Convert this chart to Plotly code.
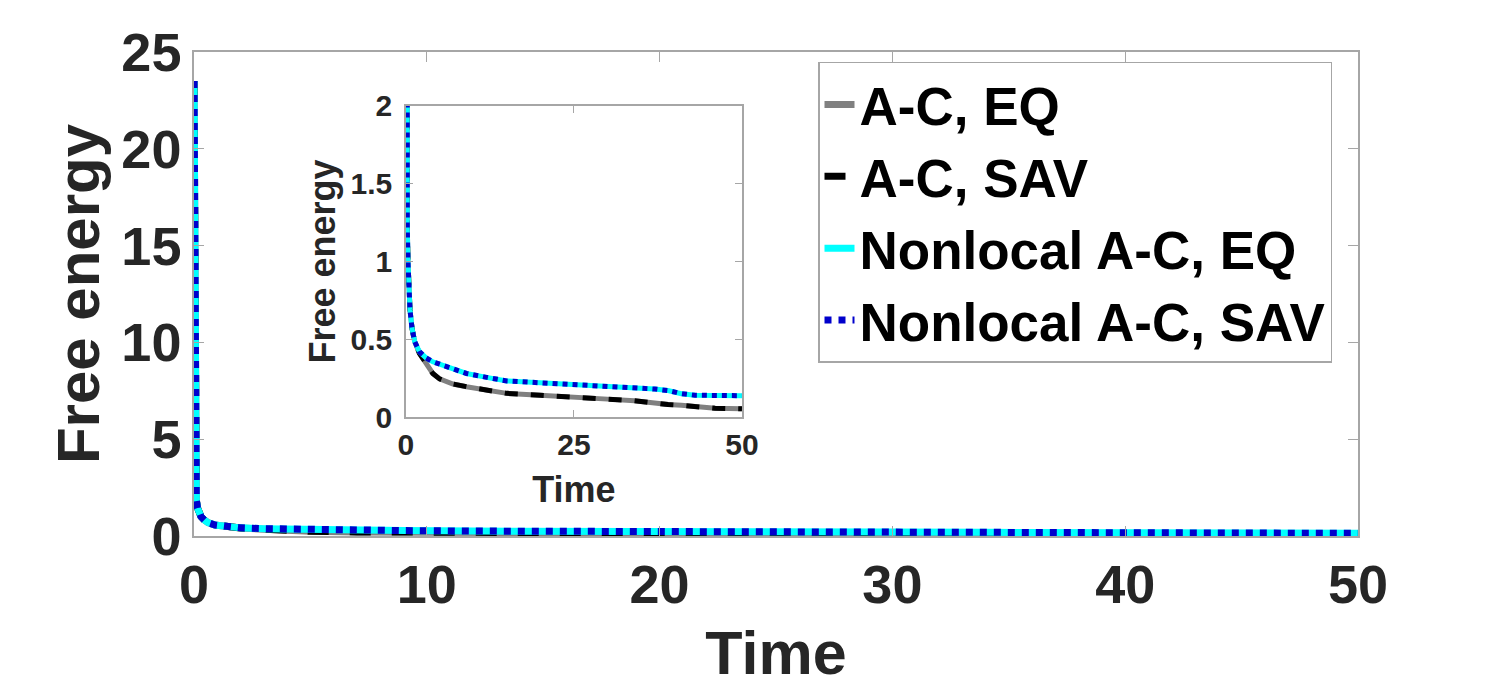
import plotly.graph_objects as go

# values (time vs free energy)
t = [0, 0.02, 0.05, 0.1, 0.15, 0.2, 0.3, 0.45, 0.6, 0.9, 1.3, 2, 3, 4, 5, 7, 9,
     12, 15, 20, 25, 30, 34, 37, 39, 41, 43, 46, 50]

ac_eq = [23.5, 10.0, 4.0, 1.85, 1.45, 1.22, 1.0, 0.82, 0.69, 0.57, 0.485, 0.41,
         0.35, 0.28, 0.245, 0.212, 0.195, 0.172, 0.152, 0.14, 0.13, 0.115, 0.104,
         0.088, 0.08, 0.075, 0.068, 0.056, 0.053]
# EQ and SAV curves sit on top of each other at this resolution
ac_sav = list(ac_eq)

nl_eq = [23.5, 10.0, 4.0, 1.85, 1.45, 1.22, 1.0, 0.82, 0.69, 0.57, 0.485, 0.42,
         0.38, 0.355, 0.34, 0.305, 0.28, 0.255, 0.232, 0.22, 0.21, 0.2, 0.19,
         0.18, 0.17, 0.15, 0.14, 0.137, 0.137]
nl_sav = list(nl_eq)

names = ["A-C, EQ", "A-C, SAV", "Nonlocal A-C, EQ", "Nonlocal A-C, SAV"]
series = [ac_eq, ac_sav, nl_eq, nl_sav]
colors = ["#808080", "#000000", "#00ffff", "#0000cc"]
main_dash = ["solid", "21px,21px", "solid", "dot"]
inset_dash = ["solid", "13px,13px", "solid", "dot"]

FONT = "Liberation Sans, Arial, sans-serif"
AXC = "#a6a6a6"
TXT = "#262626"

fig = go.Figure()

for name, y, c, d in zip(names, series, colors, main_dash):
    fig.add_trace(go.Scatter(x=t, y=y, mode="lines", name=name,
                             line=dict(color=c, width=7, dash=d),
                             xaxis="x", yaxis="y"))

for name, y, c, d in zip(names, series, colors, inset_dash):
    fig.add_trace(go.Scatter(x=t, y=y, mode="lines", name=name, showlegend=False,
                             line=dict(color=c, width=5, dash=d),
                             xaxis="x2", yaxis="y2"))

axis_common = dict(showline=True, linecolor=AXC, linewidth=1.5, mirror="ticks",
                   ticks="inside", tickcolor=AXC, showgrid=False, zeroline=False,
                   automargin=False)

# page body has an 8px margin, so paper positions are shifted by 8px
fig.update_layout(
    width=1500, height=691,
    margin=dict(l=0, r=0, t=0, b=0),
    paper_bgcolor="white", plot_bgcolor="white",
    xaxis=dict(domain=[0.124, 0.9], range=[0, 50], tickvals=[0, 10, 20, 30, 40, 50],
               ticklen=10, ticklabelstandoff=0,
               tickfont=dict(family=FONT, size=54, color=TXT, weight="bold"),
               title=dict(text="Time", standoff=19,
                          font=dict(family=FONT, size=61, color=TXT, weight="bold")),
               anchor="y", **axis_common),
    yaxis=dict(domain=[0.2359, 0.9363], range=[0, 25], tickvals=[0, 5, 10, 15, 20, 25],
               ticklen=10, ticklabelstandoff=0,
               tickfont=dict(family=FONT, size=54, color=TXT, weight="bold"),
               title=dict(text="Free energy", standoff=2,
                          font=dict(family=FONT, size=60, color=TXT, weight="bold")),
               anchor="x", **axis_common),
    xaxis2=dict(domain=[0.2653, 0.4893], range=[0, 50], tickvals=[0, 25, 50],
                ticklen=7, ticklabelstandoff=0,
                tickfont=dict(family=FONT, size=30, color=TXT, weight="bold"),
                title=dict(text="Time", standoff=17,
                           font=dict(family=FONT, size=36, color=TXT, weight="bold")),
                anchor="y2", **axis_common),
    yaxis2=dict(domain=[0.4081, 0.8582], range=[0, 2], tickvals=[0, 0.5, 1, 1.5, 2],
                ticktext=["0", "0.5", "1", "1.5", "2"],
                ticklen=7, ticklabelstandoff=6,
                tickfont=dict(family=FONT, size=30, color=TXT, weight="bold"),
                title=dict(text="Free energy", standoff=4,
                           font=dict(family=FONT, size=36, color=TXT, weight="bold")),
                anchor="x2", **axis_common),
    legend=dict(x=0.54, y=0.9219, xanchor="left", yanchor="top",
                bgcolor="white", bordercolor=AXC, borderwidth=1.5,
                font=dict(family=FONT, size=53, color="black", weight="bold"),
                itemwidth=30, tracegroupgap=0),
    showlegend=True,
)

fig.write_html("out.html")
